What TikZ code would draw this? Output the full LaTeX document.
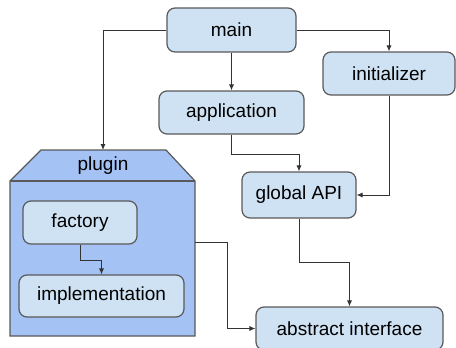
\documentclass[tikz,border=0pt]{standalone}
\usepackage{fontspec}
\setmainfont{Liberation Sans}
\usetikzlibrary{arrows.meta,calc}
\definecolor{boxblue}{HTML}{CFE2F3}
\definecolor{plugblue}{HTML}{A4C2F4}
\definecolor{edge}{HTML}{595959}
\tikzset{
  modbox/.style={draw=edge,fill=boxblue,rounded corners=4pt,line width=0.6pt,
    inner sep=0pt,font=\fontsize{9.5}{11}\selectfont},
  arr/.style={-{Latex[length=3pt,width=2.6pt]},draw=black!80,line width=0.5pt}
}
\begin{document}
\begin{tikzpicture}[x=0.5pt,y=-0.5pt]
    \useasboundingbox (0,0) rectangle (456,348);
    % plugin container
    \draw[draw=edge,fill=plugblue,line width=0.6pt] (41,150)--(166,150)--(195,181)--(195,336)--(10,336)--(10,181)--cycle;
    \draw[draw=edge,line width=0.6pt] (10,181)--(195,181);
    \node[inner sep=0pt,font=\fontsize{9.5}{11}\selectfont] (plugtitle) at (103,165.5) {plugin};
    \node[minimum width=92.5pt,minimum height=77.5pt,inner sep=0pt] (plugin) at (102.5,258.5) {};
    \coordinate (plugtop) at (103,150);

    \node[modbox,minimum width=64.5pt,minimum height=22pt] (main) at (231.5,30) {main};
    \node[modbox,minimum width=66pt,minimum height=21.5pt] (initializer) at (389,73.5) {initializer};
    \node[modbox,minimum width=72.5pt,minimum height=21.5pt] (application) at (231.5,112.5) {application};
    \node[modbox,minimum width=57pt,minimum height=23pt] (globalapi) at (299,195) {global API};
    \node[modbox,minimum width=57pt,minimum height=21.5pt] (factory) at (80,222.5) {factory};
    \node[modbox,minimum width=82.5pt,minimum height=21pt] (implementation) at (101.5,296) {implementation};
    \node[modbox,minimum width=93.5pt,minimum height=21.5pt] (abstract) at (349.5,328.5) {abstract interface};

    \draw[arr] (main.west) -| (plugtop);
    \draw[arr] (main) -- (application);
    \draw[arr] (main.east) -| (initializer.north);
    \draw[arr] (application.south) -- ++(0,20) -| (globalapi.north);
    \draw[arr] (initializer.south) |- (globalapi.east);
    \draw[arr] (globalapi.south) -- ++(0,44) -| (abstract.north);
    \draw[arr] ([yshift=8.25pt]plugin.east) -- ++(32,0) |- (abstract.west);
    \draw[arr] (factory.south) -- ++(0,16) -| (implementation.north);
\end{tikzpicture}
\end{document}
